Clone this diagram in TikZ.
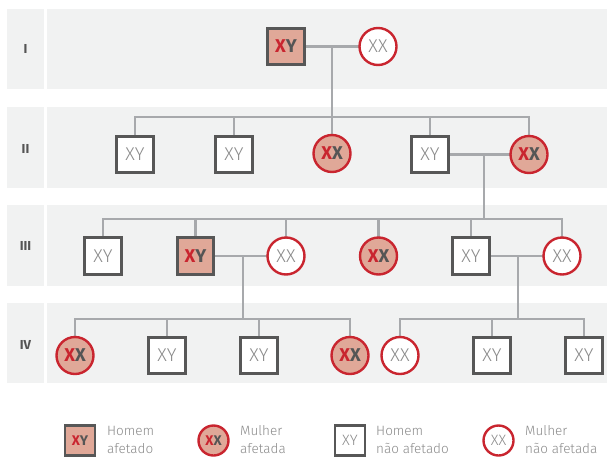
\documentclass[tikz,border=0pt]{standalone}
\usepackage{fontspec}
\setmainfont{Fira Sans}
\newfontfamily\thinfont{Fira Sans Light}
\definecolor{bandc}{HTML}{F1F2F2}
\definecolor{sqc}{HTML}{575757}
\definecolor{redc}{HTML}{C9252F}
\definecolor{affc}{HTML}{E0A898}
\definecolor{linec}{HTML}{A7A9AC}
\definecolor{txtc}{HTML}{8A8A8A}
\definecolor{dkc}{HTML}{555555}
\newcommand{\affXY}{{\bfseries\color{redc}X\color{dkc}Y}}
\newcommand{\affXX}{{\bfseries\color{redc}X\color{dkc}X}}
\newcommand{\unXY}{{\thinfont\color{txtc}XY}}
\newcommand{\unXX}{{\thinfont\color{txtc}XX}}
\begin{document}
\begin{tikzpicture}[x=1pt,y=-1pt,
  male/.style={draw=sqc,line width=2.6pt,fill=white,minimum size=36.5pt,inner sep=0pt,font=\fontsize{18.5}{18.5}\selectfont},
  female/.style={circle,draw=redc,line width=2.4pt,fill=white,minimum size=37pt,inner sep=0pt,font=\fontsize{18.5}{18.5}\selectfont},
  affm/.style={male,fill=affc},
  afff/.style={female,fill=affc},
  lmale/.style={male,minimum size=30pt,font=\fontsize{15}{15}\selectfont},
  lfemale/.style={female,minimum size=30pt,font=\fontsize{15}{15}\selectfont},
  link/.style={draw=linec,line width=2.4pt},
  gen/.style={font=\bfseries\fontsize{13}{13}\selectfont,text=dkc},
  legtxt/.style={anchor=west,align=left,text=txtc,inner sep=0pt,font=\thinfont\fontsize{13.5}{18}\selectfont}]
\useasboundingbox (0,0) rectangle (607,458);
% bands
\foreach \a/\b in {9/89,107/188,205/286,303/383}{
  \fill[bandc] (7,\a) rectangle (44,\b);
  \fill[bandc] (47,\a) rectangle (607,\b);
}
\node[gen] (gI) at (25.5,49) {I};
\node[gen] (gII) at (25.5,149) {II};
\node[gen] (gIII) at (25.5,246) {III};
\node[gen] (gIV) at (25.5,345) {IV};
% named positions
\coordinate (pI1) at (286,46.5);   \coordinate (pI2) at (378,46.5);
\coordinate (pII1) at (135,154.5); \coordinate (pII2) at (234,154.5);
\coordinate (pII3) at (332,153.5); \coordinate (pII4) at (430,154.5);
\coordinate (pII5) at (529,154.5);
\coordinate (pIII1) at (103,256);  \coordinate (pIII2) at (195.5,256);
\coordinate (pIII3) at (286,256);  \coordinate (pIII4) at (378.5,256);
\coordinate (pIII5) at (471,256);  \coordinate (pIII6) at (562,256);
\coordinate (pIV1) at (75,355.5);  \coordinate (pIV2) at (167,355.5);
\coordinate (pIV3) at (259,355.5); \coordinate (pIV4) at (350,355.5);
\coordinate (pIV5) at (400,355.5); \coordinate (pIV6) at (492,355.5);
\coordinate (pIV7) at (584,355.5);
% connectors (drawn first, nodes on top)
\coordinate (mI) at (332,46.5);
\coordinate (sII) at (332,117);
\draw[link] (pI1) -- (pI2);
\draw[link] (mI) -- (sII);
\draw[link] (pII1) |- (sII) -| (pII5);
\foreach \n in {pII2,pII3,pII4}{\draw[link] (\n) -- (\n |- sII);}
\coordinate (mII) at (484,154.5);
\coordinate (sIII) at (484,219);
\draw[link] (pII4) -- (pII5);
\draw[link] (mII) -- (sIII);
\draw[link] (pIII1) |- (sIII) -| (pIII6);
\foreach \n in {pIII2,pIII3,pIII4,pIII5}{\draw[link] (\n) -- (\n |- sIII);}
\coordinate (mIIIa) at (243,256);
\coordinate (sIVa) at (243,319);
\draw[link] (pIII2) -- (pIII3);
\draw[link] (mIIIa) -- (sIVa);
\draw[link] (pIV1) |- (sIVa) -| (pIV4);
\foreach \n in {pIV2,pIV3}{\draw[link] (\n) -- (\n |- sIVa);}
\coordinate (mIIIb) at (518,256);
\coordinate (sIVb) at (518,319);
\draw[link] (pIII5) -- (pIII6);
\draw[link] (mIIIb) -- (sIVb);
\draw[link] (pIV5) |- (sIVb) -| (pIV7);
\draw[link] (pIV6) -- (pIV6 |- sIVb);
% nodes
\node[affm] (I1) at (pI1) {\affXY};
\node[female] (I2) at (pI2) {\unXX};
\node[male] (II1) at (pII1) {\unXY};
\node[male] (II2) at (pII2) {\unXY};
\node[afff] (II3) at (pII3) {\affXX};
\node[male] (II4) at (pII4) {\unXY};
\node[afff] (II5) at (pII5) {\affXX};
\node[male] (III1) at (pIII1) {\unXY};
\node[affm] (III2) at (pIII2) {\affXY};
\node[female] (III3) at (pIII3) {\unXX};
\node[afff] (III4) at (pIII4) {\affXX};
\node[male] (III5) at (pIII5) {\unXY};
\node[female] (III6) at (pIII6) {\unXX};
\node[afff] (IV1) at (pIV1) {\affXX};
\node[male] (IV2) at (pIV2) {\unXY};
\node[male] (IV3) at (pIV3) {\unXY};
\node[afff] (IV4) at (pIV4) {\affXX};
\node[female] (IV5) at (pIV5) {\unXX};
\node[male] (IV6) at (pIV6) {\unXY};
\node[male] (IV7) at (pIV7) {\unXY};
% legend
\node[lmale,fill=affc,font=\fontsize{14}{14}\selectfont] (L1) at (80,440.5) {\affXY};
\node[legtxt] (L1t) at (107,440) {Homem\\afetado};
\node[lfemale,fill=affc,font=\fontsize{14}{14}\selectfont] (L2) at (213.5,440.5) {\affXX};
\node[legtxt] (L2t) at (240,440) {Mulher\\afetada};
\node[lmale] (L3) at (350,440.5) {\unXY};
\node[legtxt] (L3t) at (376,440) {Homem\\não afetado};
\node[lfemale] (L4) at (498.5,440.5) {\unXX};
\node[legtxt] (L4t) at (525,440) {Mulher\\não afetada};
\end{tikzpicture}
\end{document}
